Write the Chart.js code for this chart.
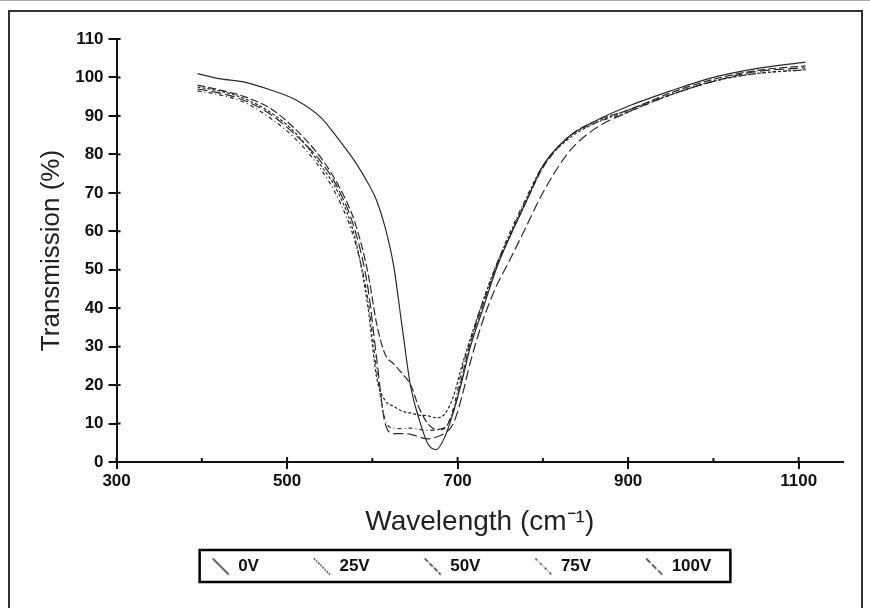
<!DOCTYPE html>
<html>
<head>
<meta charset="utf-8">
<script src="https://cdn.jsdelivr.net/npm/chart.js@4"></script>
<style>
  html, body { margin: 0; padding: 0; background: #fff; }
  #wrap { position: relative; width: 870px; height: 608px; overflow: hidden; border-top: 1px solid #aaa; box-sizing: border-box; }
  #frame { position: absolute; left: 8px; top: 9px; width: 851px; height: 640px; border: 2px solid #333; }
  canvas { position: absolute; left: 0; top: 0; }
</style>
</head>
<body>
<div id="wrap">
  <div id="frame"></div>
  <canvas id="myChart" width="870" height="608"></canvas>
</div>
<script>
// wavelengths (cm-1) shared by all series
const wavelength = [395, 420, 450, 480, 510, 540, 560, 580, 595, 605, 615, 625, 635, 645, 655, 665, 675, 685, 695, 705, 715, 730, 745, 760, 780, 800, 830, 860, 900, 950, 1000, 1050, 1108];

// transmission (%)
const t0V   = [101, 99.7, 98.8, 96.8, 94.2, 89.5, 84, 78, 72.5, 68, 61, 51, 35, 19.5, 11, 4.8, 3.2, 6.5, 13, 21, 30, 40, 50, 58, 67.5, 77, 84.5, 88.5, 92.5, 96.5, 100, 102.3, 104];
const t25V  = [97.5, 96.5, 94.5, 91, 85.5, 77, 70, 58, 40, 22, 16, 14.5, 13.2, 12.7, 12.2, 12, 11.5, 12.5, 17, 25, 32, 42, 51, 58.5, 68, 77, 84, 88, 91.5, 95.5, 99, 101, 102];
const t50V  = [98, 96.8, 95, 92, 86.5, 79, 72, 62, 49, 36, 28, 25.5, 23, 20, 14, 10, 8.5, 9, 13, 22, 31, 41, 50.5, 58, 67.5, 76.5, 84.5, 88.5, 91.5, 96, 99.5, 101.8, 103];
const t75V  = [96.5, 95.5, 93.5, 89.5, 84, 76, 68.5, 57, 42, 24, 11, 8.8, 8.7, 8.8, 8.5, 8.2, 8.3, 8.8, 14, 24, 32, 42, 51, 59, 68.5, 77, 84.5, 88, 91, 95.5, 99, 101, 102];
const t100V = [97, 96, 94, 90.5, 85, 78, 71, 60, 45, 27, 10, 7.4, 7.4, 7.2, 6.5, 6, 6.5, 7.5, 10, 17, 26, 37, 45.5, 52, 61, 70, 80.5, 86.5, 91, 95.5, 99, 101.5, 102.5];

const seriesNames = ['0V', '25V', '50V', '75V', '100V'];
const seriesValues = [t0V, t25V, t50V, t75V, t100V];
const dashes = [[], [3, 2], [8, 3], [4, 3, 1, 3], [10, 4]];

const ICON_W = 62;   // legend symbol box, line sits at its right end
const ICON_GAP = ICON_W - 18;

// little diagonal line used as legend symbol
function legendIcon(dash) {
    const c = document.createElement('canvas');
    c.width = ICON_W; c.height = 18;
    const g = c.getContext('2d');
    g.strokeStyle = '#111';
    g.lineWidth = 1.3;
    g.setLineDash(dash.map(d => d * 0.6));
    g.beginPath();
    g.moveTo(ICON_GAP + 1, 1);
    g.lineTo(ICON_GAP + 17, 17);
    g.stroke();
    return c;
}

const datasets = seriesNames.map((name, i) => ({
    label: name,
    data: wavelength.map((w, k) => ({x: w, y: seriesValues[i][k]})),
    borderColor: '#2a2a2a',
    borderWidth: 1.2,
    borderDash: dashes[i],
    pointRadius: 0,
    pointStyle: legendIcon(dashes[i]),
    cubicInterpolationMode: 'monotone',
    fill: false
}));

// inner tick stubs + legend frame
const extras = {
    id: 'extras',
    afterDraw(chart) {
        const ctx = chart.ctx;
        const xs = chart.scales.x, ys = chart.scales.y;
        ctx.save();
        ctx.strokeStyle = '#111';
        ctx.lineWidth = 2;
        ys.ticks.forEach(t => {
            const py = ys.getPixelForValue(t.value);
            ctx.beginPath();
            ctx.moveTo(xs.left, py);
            ctx.lineTo(xs.left + 4, py);
            ctx.stroke();
        });
        xs.ticks.forEach(t => {
            const px = xs.getPixelForValue(t.value);
            const major = (t.value - 300) % 200 === 0;
            ctx.beginPath();
            ctx.moveTo(px, ys.bottom);
            ctx.lineTo(px, ys.bottom - (major ? 5 : 4));
            ctx.stroke();
        });
        const boxes = chart.legend.legendHitBoxes;
        if (boxes && boxes.length) {
            const l = Math.min(...boxes.map(b => b.left)) + ICON_GAP - 12;
            const r = Math.max(...boxes.map(b => b.left + b.width)) + 19;
            const t = Math.min(...boxes.map(b => b.top)) - 8;
            const b2 = Math.max(...boxes.map(b => b.top + b.height)) + 7;
            ctx.lineWidth = 2.5;
            ctx.strokeStyle = '#000';
            ctx.strokeRect(l, t, r - l, b2 - t);
        }
        ctx.restore();
    }
};

const ctx = document.getElementById('myChart').getContext('2d');
const chart = new Chart(ctx, {
    type: 'line',
    data: { datasets: datasets },
    options: {
        responsive: false,
        animation: false,
        layout: { padding: { left: 36, right: 27, top: 38, bottom: 24 } },
        plugins: {
            legend: {
                position: 'bottom',
                labels: {
                    usePointStyle: true,
                    pointStyleWidth: ICON_W,
                    color: '#111',
                    font: { family: 'Liberation Sans, Arial', size: 17, weight: 'bold' },
                    padding: 10
                }
            },
            tooltip: { enabled: false }
        },
        scales: {
            x: {
                type: 'linear',
                min: 300,
                max: 1152,
                border: { color: '#111', width: 2 },
                grid: { drawOnChartArea: false, tickLength: 7, lineWidth: 2,
                        color: c => ((c.tick && (c.tick.value - 300) % 200 === 0) ? '#111' : 'rgba(0,0,0,0)') },
                ticks: {
                    stepSize: 100,
                    includeBounds: false,
                    autoSkip: false,
                    maxRotation: 0,
                    padding: 2,
                    color: '#111',
                    font: { family: 'Liberation Sans, Arial', size: 17, weight: 'bold' },
                    callback: v => ((v - 300) % 200 === 0 ? String(v) : '')
                },
                title: {
                    display: true,
                    text: 'Wavelength (cm\u207B\u00B9)',
                    color: '#222',
                    font: { family: 'Liberation Sans, Arial', size: 28 },
                    padding: { top: 12, bottom: 9 }
                }
            },
            y: {
                min: 0,
                max: 110,
                border: { color: '#111', width: 2 },
                grid: { drawOnChartArea: false, tickLength: 8, lineWidth: 2, color: '#111' },
                ticks: {
                    stepSize: 10,
                    padding: 5,
                    color: '#111',
                    font: { family: 'Liberation Sans, Arial', size: 17, weight: 'bold' }
                },
                title: {
                    display: true,
                    text: 'Transmission (%)',
                    color: '#222',
                    font: { family: 'Liberation Sans, Arial', size: 26 },
                    padding: { top: 0, bottom: 3 }
                }
            }
        }
    },
    plugins: [extras]
});
</script>
</body>
</html>
